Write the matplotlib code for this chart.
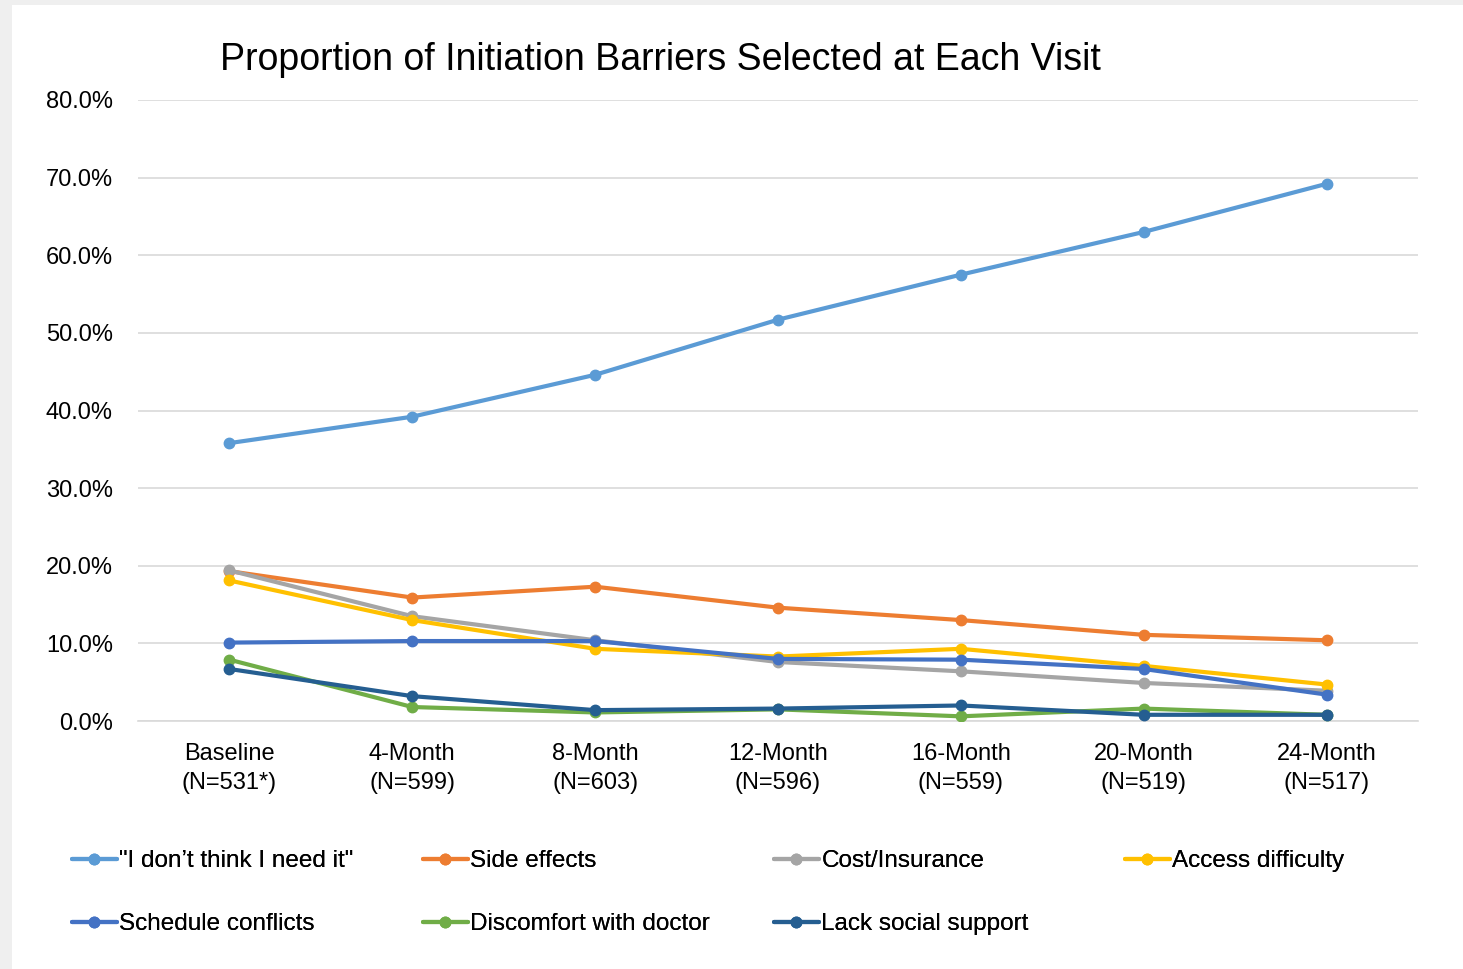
import matplotlib
matplotlib.use("Agg")
import matplotlib.pyplot as plt
from matplotlib.patches import Rectangle
from matplotlib.ticker import PercentFormatter

plt.rcParams['font.family'] = ['Liberation Sans', 'DejaVu Sans']

visits = ['Baseline\n(N=531*)', '4-Month\n(N=599)', '8-Month\n(N=603)',
          '12-Month\n(N=596)', '16-Month\n(N=559)', '20-Month\n(N=519)',
          '24-Month\n(N=517)']

labels = ['"I don\u2019t think I need it"', 'Side effects', 'Cost/Insurance',
          'Access difficulty', 'Schedule conflicts', 'Discomfort with doctor',
          'Lack social support']

dont_need = [35.8, 39.2, 44.6, 51.7, 57.5, 63.0, 69.2]
side_effects = [19.3, 15.9, 17.3, 14.6, 13.0, 11.1, 10.4]
cost_insurance = [19.4, 13.5, 10.4, 7.6, 6.4, 4.9, 3.9]
access_difficulty = [18.1, 13.0, 9.3, 8.3, 9.3, 7.1, 4.7]
schedule_conflicts = [10.1, 10.3, 10.3, 8.0, 7.9, 6.7, 3.4]
discomfort_doctor = [7.9, 1.8, 1.1, 1.5, 0.6, 1.6, 0.8]
lack_support = [6.7, 3.2, 1.4, 1.6, 2.0, 0.8, 0.8]

series = [dont_need, side_effects, cost_insurance, access_difficulty,
          schedule_conflicts, discomfort_doctor, lack_support]
colors = ['#5B9BD5', '#ED7D31', '#A5A5A5', '#FFC000',
          '#4472C4', '#70AD47', '#255E91']

W, H = 1463, 969
fig = plt.figure(figsize=(W / 100, H / 100), dpi=100)
fig.patch.set_facecolor('#efefef')
fig.patches.append(Rectangle((12 / W, 0), 1, 1 - 5 / H, transform=fig.transFigure,
                             facecolor='white', edgecolor='none', zorder=-5))

ax = fig.add_axes([138 / W, 1 - 721 / H, 1280 / W, 621 / H])
ax.set_facecolor('none')

x = range(len(visits))
lines = []
for vals, col, lab in zip(series, colors, labels):
    ln, = ax.plot(x, vals, color=col, lw=3.0, marker='o', markersize=7.5,
                  label=lab, solid_capstyle='round', zorder=3)
    lines.append(ln)

ax.set_xlim(-0.5, len(visits) - 0.5)
ax.set_ylim(0, 80)
ax.set_yticks(range(0, 81, 10))
ax.yaxis.set_major_formatter(PercentFormatter(decimals=1))
ax.set_xticks(list(x))
ax.set_xticklabels(visits, fontsize=17, linespacing=1.4)
ax.tick_params(axis='y', labelsize=17, length=0, pad=18)
ax.tick_params(axis='x', length=0, pad=16)
ax.grid(axis='y', color='#d9d9d9', lw=1.2)
for s in ['top', 'right', 'left']:
    ax.spines[s].set_visible(False)
ax.spines['bottom'].set_color('#d9d9d9')
ax.spines['bottom'].set_linewidth(1.2)

fig.text(660 / W, 1 - 60 / H, 'Proportion of Initiation Barriers Selected at Each Visit',
         ha='center', va='center', fontsize=27)

# legend: one small legend per column so the columns sit at fixed positions
col_x = [72, 423, 774, 1125]
order = [[0, 4], [1, 5], [2, 6], [3]]
for cx, idx in zip(col_x, order):
    leg = fig.legend([lines[i] for i in idx], [labels[i] for i in idx],
                     loc='upper left', bbox_to_anchor=(cx / W, 1 - 850 / H),
                     frameon=False, fontsize=17.5, handlelength=1.85,
                     handletextpad=0.1, borderpad=0, borderaxespad=0,
                     labelspacing=1.7)
    fig.add_artist(leg)

fig.savefig('out.png', dpi=100, facecolor=fig.get_facecolor())
